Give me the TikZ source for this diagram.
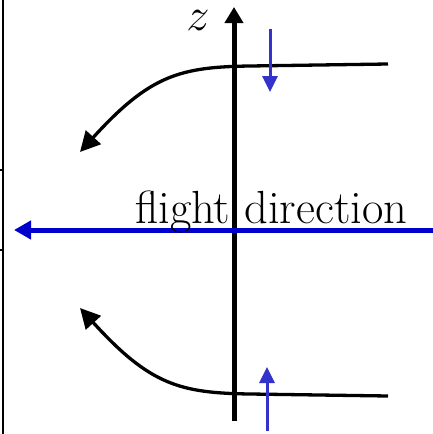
\documentclass[tikz,border=0pt]{standalone}
\usepackage{fix-cm}
\usetikzlibrary{arrows.meta}
\definecolor{flightblue}{RGB}{0,0,204}
\definecolor{velblue}{RGB}{51,51,204}
\tikzset{
  big/.style={font=\fontsize{46.5}{55}\selectfont, inner sep=0pt},
  axis/.style={line width=5pt, -{Triangle[width=18pt,length=16pt]}},
  flow/.style={line width=3.3pt, -{Triangle[width=20pt,length=20pt]}},
  flight/.style={line width=5pt, flightblue, -{Triangle[width=18pt,length=17pt]}},
  vel/.style={line width=3pt, velblue, -{Triangle[width=15pt,length=16pt]}},
  frame/.style={line width=2pt}
}
\begin{document}
\begin{tikzpicture}[x=1pt,y=-1pt]
\useasboundingbox (0,0) rectangle (433,434);
% frame line on the left
\coordinate (ftop) at (2.5,0);
\coordinate (fbot) at (2.5,434);
\draw[frame] (ftop) -- (fbot);
\coordinate (t1a) at (0,170); \coordinate (t1b) at (2.5,170);
\coordinate (t2a) at (0,250); \coordinate (t2b) at (2.5,250);
\draw[line width=1.5pt] (t1a) -- (t1b);
\draw[line width=1.5pt] (t2a) -- (t2b);
% z axis
\coordinate (zbot) at (234,421);
\coordinate (ztop) at (234,7);
\draw[axis] (zbot) -- (ztop);
\node[big, anchor=base] (zlab) at (198,30) {$z$};
% flight direction
\coordinate (fR) at (433,230);
\coordinate (fL) at (14,230);
\draw[flight] (fR) -- (fL);
\node[big, anchor=base west] (flab) at (135,223) {flight direction};
% upper flow line
\coordinate (u0) at (388,64);
\coordinate (u1) at (250,66);
\coordinate (utip) at (80,152);
\draw[flow] (u0) -- (u1) .. controls (180,67) and (150,75) .. (utip);
% lower flow line
\coordinate (l0) at (388,396);
\coordinate (l1) at (250,394);
\coordinate (ltip) at (80,308);
\draw[flow] (l0) -- (l1) .. controls (180,393) and (150,385) .. (ltip);
% velocity arrows
\coordinate (va) at (270,29);
\coordinate (vb) at (270,92);
\draw[vel] (va) -- (vb);
\coordinate (wa) at (267,431);
\coordinate (wb) at (267,367);
\draw[vel] (wa) -- (wb);
\end{tikzpicture}
\end{document}
